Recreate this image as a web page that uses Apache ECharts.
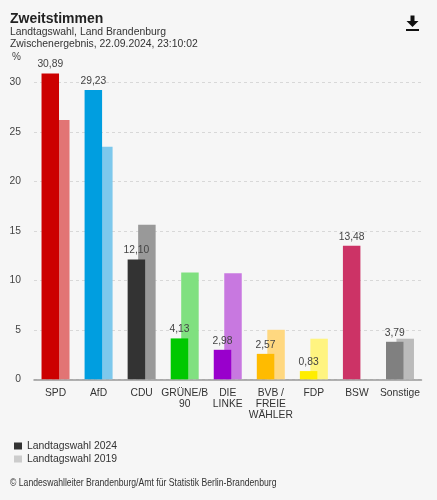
<!DOCTYPE html>
<html><head><meta charset="utf-8">
<script src="https://cdn.jsdelivr.net/npm/echarts@6/dist/echarts.min.js"></script>
<style>html,body{margin:0;padding:0;background:#f6f6f6}#c{width:437px;height:500px}</style>
</head><body><div id="c"></div>
<script>
const categories = ['SPD','AfD','CDU','GRÜNE/B\n90','DIE\nLINKE','BVB /\nFREIE\nWÄHLER','FDP','BSW','Sonstige'];
const values2024 = [30.89, 29.23, 12.10, 4.13, 2.98, 2.57, 0.83, 13.48, 3.79];
const values2019 = [26.2, 23.5, 15.6, 10.8, 10.7, 5.0, 4.1, null, 4.1];
const colors2024 = ['#cc0000','#009ee0','#333333','#00c800','#9900cc','#ffbb00','#ffed00','#cc3366','#808080'];
const colors2019 = ['#e27474','#7dc8ec','#999999','#80e080','#c878e0','#ffd880','#fff480','#e699b3','#bbbbbb'];
const seriesNames = ['Landtagswahl 2024','Landtagswahl 2019'];
const titleText = 'Zweitstimmen';
const subtitleLines = ['Landtagswahl, Land Brandenburg','Zwischenergebnis, 22.09.2024, 23:10:02'];
const footerText = '© Landeswahlleiter Brandenburg/Amt für Statistik Berlin-Brandenburg';

const FONT = '"Liberation Sans", Arial, sans-serif';
const chart = echarts.init(document.getElementById('c'), null, {renderer: 'canvas'});
const fmt = v => v.toFixed(2).replace('.', ',');

chart.setOption({
  backgroundColor: '#f6f6f6',
  animation: false,
  textStyle: {fontFamily: FONT},
  grid: {left: 34, top: 62.5, width: 387.5, height: 316.8},
  legend: {
    orient: 'vertical', left: 9, top: 436,
    itemWidth: 8, itemHeight: 7, itemGap: 3,
    icon: 'rect',
    textStyle: {fontSize: 10.4, color: '#333', fontFamily: FONT, padding: [0,0,0,0]},
    data: seriesNames
  },
  xAxis: {
    type: 'category', data: categories,
    axisLine: {lineStyle: {color: '#999', width: 1.5}},
    axisTick: {show: false},
    axisLabel: {interval: 0, fontSize: 10.3, color: '#333', lineHeight: 11, margin: 8, fontFamily: FONT}
  },
  yAxis: {
    type: 'value', min: 0, max: 32, interval: 5,
    axisLine: {show: false}, axisTick: {show: false},
    axisLabel: {fontSize: 10.3, color: '#444', margin: 13, showMaxLabel: false, fontFamily: FONT},
    splitLine: {show: true, showMaxLine: false, lineStyle: {color: '#d8d8d8', type: [3, 3]}}
  },
  series: [
    {
      name: seriesNames[0], type: 'bar', z: 3,
      barWidth: 17.5, barGap: '-40%',
      itemStyle: {color: '#333333'},
      data: values2024.map((v, i) => ({value: v, itemStyle: {color: colors2024[i]}})),
      label: {show: true, position: 'top', distance: 4, fontSize: 10.3, color: '#444', fontFamily: FONT,
        formatter: p => fmt(p.value)}
    },
    {
      name: seriesNames[1], type: 'bar', z: 2,
      barWidth: 17.5, barGap: '-40%',
      itemStyle: {color: '#cccccc'},
      data: values2019.map((v, i) => ({value: v, itemStyle: {color: colors2019[i]}}))
    }
  ],
  graphic: [
    {type: 'text', left: 10, top: 12.5, style: {text: titleText, font: 'bold 14px ' + FONT, fill: '#222'}},
    {type: 'text', left: 10, top: 27.5, style: {text: subtitleLines[0], font: '10.4px ' + FONT, fill: '#333'}},
    {type: 'text', left: 10, top: 39, style: {text: subtitleLines[1], font: '10.4px ' + FONT, fill: '#333'}},
    {type: 'text', left: 12, top: 52.5, style: {text: '%', font: '10px ' + FONT, fill: '#444'}},
    {type: 'text', left: 10, top: 478, scaleX: 0.84, style: {text: footerText, font: '10.3px ' + FONT, fill: '#333'}},
    {type: 'rect', shape: {x: 410.5, y: 15.5, width: 4, height: 6}, style: {fill: '#111'}},
    {type: 'polygon', shape: {points: [[406.5, 21], [418.5, 21], [412.5, 27]]}, style: {fill: '#111'}},
    {type: 'rect', shape: {x: 406, y: 29, width: 13, height: 2}, style: {fill: '#111'}}
  ]
});
</script></body></html>
